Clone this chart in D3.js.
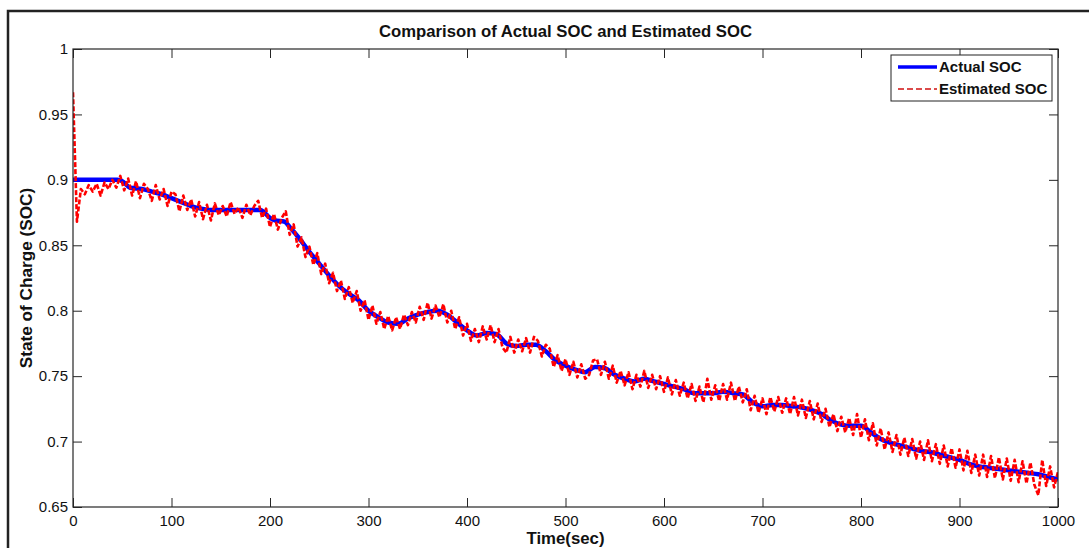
<!DOCTYPE html>
<html>
<head>
<meta charset="utf-8">
<script src="https://cdn.jsdelivr.net/npm/d3@7"></script>
<style>
  html, body { margin: 0; padding: 0; background: #fff; }
  svg { display: block; font-family: "Liberation Sans", Arial, sans-serif; }
</style>
</head>
<body>
<svg id="chart" width="1089" height="548"></svg>
<script>
// ---------------- DATA ----------------
const chartTitle = "Comparison of Actual SOC and Estimated SOC";
const xLabel = "Time(sec)";
const yLabel = "State of Charge (SOC)";
const seriesNames = ["Actual SOC", "Estimated SOC"];

const xTicks = [0, 100, 200, 300, 400, 500, 600, 700, 800, 900, 1000];
const yTicks = [0.65, 0.7, 0.75, 0.8, 0.85, 0.9, 0.95, 1];
const yTickLabels = ["0.65", "0.7", "0.75", "0.8", "0.85", "0.9", "0.95", "1"];

const actualTime = [0, 45, 50, 58, 70, 80, 90, 100, 110, 120, 130, 140, 160, 180, 190, 200, 205, 215, 220,
  230, 240, 250, 260, 270, 280, 290, 300, 310, 320, 330, 340, 350, 360, 370, 380, 390, 400, 410, 420,
  430, 440, 450, 460, 470, 480, 490, 500, 510, 520, 530, 540, 550, 560, 570, 580, 590, 600, 610, 620,
  630, 640, 650, 660, 670, 680, 690, 700, 710, 720, 730, 740, 750, 760, 770, 780, 790, 800, 810, 820,
  830, 840, 850, 860, 870, 880, 890, 900, 910, 920, 930, 940, 950, 960, 970, 980, 990, 1000];
const actualSOC = [0.900, 0.900, 0.899, 0.894, 0.893, 0.891, 0.889, 0.886, 0.883, 0.880, 0.878, 0.877, 0.877, 0.877, 0.877, 0.871, 0.869, 0.868, 0.864,
  0.855, 0.845, 0.836, 0.827, 0.819, 0.813, 0.808, 0.800, 0.795, 0.791, 0.790, 0.794, 0.797, 0.799, 0.800, 0.797, 0.791, 0.785, 0.781, 0.783,
  0.782, 0.775, 0.773, 0.774, 0.774, 0.769, 0.762, 0.758, 0.755, 0.753, 0.757, 0.756, 0.751, 0.748, 0.746, 0.748, 0.746, 0.744, 0.742, 0.740,
  0.737, 0.737, 0.737, 0.738, 0.737, 0.736, 0.730, 0.727, 0.728, 0.728, 0.727, 0.726, 0.724, 0.721, 0.716, 0.713, 0.712, 0.712, 0.707, 0.702,
  0.699, 0.697, 0.695, 0.693, 0.692, 0.690, 0.688, 0.686, 0.683, 0.681, 0.680, 0.679, 0.678, 0.677, 0.676, 0.675, 0.673, 0.671];

// estimated SOC sampled every 4 s from 0 to 1000 s
const estimatedSOC = [
  0.967, 0.868, 0.893, 0.889, 0.896, 0.891, 0.897, 0.888, 0.898, 0.893, 0.900, 0.894, 0.903, 0.892, 0.901, 0.888,
  0.899, 0.886, 0.897, 0.893, 0.884, 0.896, 0.885, 0.893, 0.880, 0.891, 0.889, 0.876, 0.888, 0.877, 0.885, 0.872,
  0.883, 0.870, 0.881, 0.869, 0.882, 0.873, 0.880, 0.872, 0.883, 0.874, 0.879, 0.871, 0.881, 0.873, 0.880, 0.884,
  0.871, 0.878, 0.864, 0.874, 0.862, 0.871, 0.876, 0.858, 0.866, 0.849, 0.856, 0.841, 0.849, 0.835, 0.844, 0.828,
  0.836, 0.821, 0.829, 0.815, 0.823, 0.809, 0.818, 0.806, 0.815, 0.800, 0.808, 0.793, 0.804, 0.790, 0.799, 0.786,
  0.796, 0.785, 0.795, 0.786, 0.797, 0.789, 0.799, 0.791, 0.803, 0.793, 0.806, 0.794, 0.804, 0.795, 0.805, 0.791,
  0.800, 0.786, 0.795, 0.781, 0.790, 0.777, 0.786, 0.776, 0.788, 0.778, 0.789, 0.776, 0.786, 0.772, 0.768, 0.780,
  0.768, 0.778, 0.769, 0.779, 0.768, 0.780, 0.777, 0.765, 0.774, 0.771, 0.757, 0.766, 0.754, 0.763, 0.751, 0.761,
  0.749, 0.759, 0.748, 0.751, 0.762, 0.763, 0.751, 0.761, 0.748, 0.758, 0.745, 0.754, 0.743, 0.753, 0.740, 0.751,
  0.742, 0.754, 0.741, 0.751, 0.740, 0.750, 0.738, 0.749, 0.736, 0.747, 0.735, 0.745, 0.733, 0.744, 0.731, 0.742,
  0.730, 0.748, 0.732, 0.743, 0.731, 0.744, 0.732, 0.745, 0.731, 0.742, 0.730, 0.740, 0.724, 0.735, 0.722, 0.733,
  0.721, 0.734, 0.723, 0.734, 0.722, 0.733, 0.721, 0.734, 0.720, 0.732, 0.718, 0.731, 0.717, 0.729, 0.715, 0.725,
  0.711, 0.721, 0.708, 0.719, 0.707, 0.718, 0.705, 0.721, 0.703, 0.717, 0.701, 0.714, 0.697, 0.710, 0.694, 0.707,
  0.692, 0.705, 0.690, 0.703, 0.689, 0.702, 0.687, 0.700, 0.686, 0.701, 0.685, 0.698, 0.683, 0.697, 0.681, 0.695,
  0.680, 0.694, 0.678, 0.693, 0.676, 0.690, 0.674, 0.690, 0.673, 0.689, 0.672, 0.688, 0.671, 0.687, 0.670, 0.686,
  0.669, 0.685, 0.668, 0.684, 0.667, 0.659, 0.686, 0.666, 0.681, 0.665, 0.677
];
const estimatedTime = d3.range(0, 1001, 4);

// ---------------- LAYOUT ----------------
const svg = d3.select("#chart");
const plot = { left: 73, top: 49, right: 1058, bottom: 507 };

const x = d3.scaleLinear().domain([0, 1000]).range([plot.left, plot.right]);
const y = d3.scaleLinear().domain([0.65, 1]).range([plot.bottom, plot.top]);

// outer figure frame (cut off at right and bottom)
svg.append("rect")
  .attr("x", 8).attr("y", 11).attr("width", 1200).attr("height", 700)
  .attr("fill", "#fff").attr("stroke", "#222").attr("stroke-width", 2.5);

svg.append("rect")
  .attr("x", plot.left).attr("y", plot.top)
  .attr("width", plot.right - plot.left).attr("height", plot.bottom - plot.top)
  .attr("fill", "#fff");

// ---------------- AXES ----------------
const tickLen = 9;
const axisColor = "#262626";

function styleAxis(g) {
  g.select(".domain").remove();
  g.selectAll(".tick line").attr("stroke", axisColor).attr("stroke-width", 1);
  g.selectAll(".tick text").attr("fill", "#111").style("font-size", "15px")
    .style("font-family", "'Liberation Sans', Arial, sans-serif");
}

svg.append("g")
  .attr("transform", `translate(0,${plot.bottom})`)
  .call(d3.axisBottom(x).tickValues(xTicks).tickFormat(d3.format("d"))
    .tickSizeInner(-tickLen).tickSizeOuter(0).tickPadding(8))
  .call(styleAxis);

svg.append("g")
  .attr("transform", `translate(0,${plot.top})`)
  .call(d3.axisTop(x).tickValues(xTicks).tickFormat("")
    .tickSizeInner(-tickLen).tickSizeOuter(0))
  .call(styleAxis);

svg.append("g")
  .attr("transform", `translate(${plot.left},0)`)
  .call(d3.axisLeft(y).tickValues(yTicks).tickFormat((d, i) => yTickLabels[i])
    .tickSizeInner(-tickLen).tickSizeOuter(0).tickPadding(5))
  .call(styleAxis);

svg.append("g")
  .attr("transform", `translate(${plot.right},0)`)
  .call(d3.axisRight(y).tickValues(yTicks).tickFormat("")
    .tickSizeInner(-tickLen).tickSizeOuter(0))
  .call(styleAxis);

// ---------------- SERIES ----------------
svg.append("clipPath").attr("id", "plotclip")
  .append("rect")
  .attr("x", plot.left).attr("y", plot.top - 2)
  .attr("width", plot.right - plot.left).attr("height", plot.bottom - plot.top + 2);

const actualData = actualTime.map((t, i) => [t, actualSOC[i]]);
const estData = estimatedTime.map((t, i) => [t, estimatedSOC[i]]);

const line = d3.line().x(d => x(d[0])).y(d => y(d[1]));
const smoothLine = d3.line().x(d => x(d[0])).y(d => y(d[1])).curve(d3.curveMonotoneX);

const series = svg.append("g").attr("clip-path", "url(#plotclip)");

series.append("path")
  .datum(actualData)
  .attr("d", smoothLine)
  .attr("fill", "none")
  .attr("stroke", "#0000ff")
  .attr("stroke-width", 4.5)
  .attr("stroke-linejoin", "round");

series.append("path")
  .datum(estData)
  .attr("d", line)
  .attr("fill", "none")
  .attr("stroke", "#ff0000")
  .attr("stroke-width", 2.6)
  .attr("stroke-dasharray", "5,2")
  .attr("stroke-linejoin", "round");

svg.append("rect")
  .attr("x", plot.left).attr("y", plot.top)
  .attr("width", plot.right - plot.left).attr("height", plot.bottom - plot.top)
  .attr("fill", "none").attr("stroke", axisColor).attr("stroke-width", 1.2);

// ---------------- TEXT ----------------
svg.append("text")
  .attr("x", (plot.left + plot.right) / 2).attr("y", 37)
  .attr("text-anchor", "middle")
  .style("font-weight", "bold").style("font-size", "16.7px")
  .attr("fill", "#111")
  .text(chartTitle);

svg.append("text")
  .attr("x", (plot.left + plot.right) / 2).attr("y", 544)
  .attr("text-anchor", "middle")
  .style("font-weight", "bold").style("font-size", "16.8px")
  .attr("fill", "#111")
  .text(xLabel);

svg.append("text")
  .attr("transform", `translate(32,${(plot.top + plot.bottom) / 2}) rotate(-90)`)
  .attr("text-anchor", "middle")
  .style("font-weight", "bold").style("font-size", "17.2px")
  .attr("fill", "#111")
  .text(yLabel);

// ---------------- LEGEND ----------------
const legend = svg.append("g");
legend.append("rect")
  .attr("x", 891).attr("y", 55).attr("width", 161).attr("height", 46)
  .attr("fill", "#fff").attr("stroke", "#222").attr("stroke-width", 1);

const legendRows = [
  { name: seriesNames[0], color: "#0000ff", width: 3.5, dash: null, y: 67 },
  { name: seriesNames[1], color: "#d01010", width: 1.5, dash: "6,3", y: 89 }
];
legendRows.forEach(r => {
  legend.append("line")
    .attr("x1", 898).attr("x2", 937).attr("y1", r.y).attr("y2", r.y)
    .attr("stroke", r.color).attr("stroke-width", r.width)
    .attr("stroke-dasharray", r.dash);
  legend.append("text")
    .attr("x", 939).attr("y", r.y).attr("dy", "0.35em")
    .style("font-size", "15px").style("font-weight", "600").attr("fill", "#111")
    .text(r.name);
});
</script>
</body>
</html>
